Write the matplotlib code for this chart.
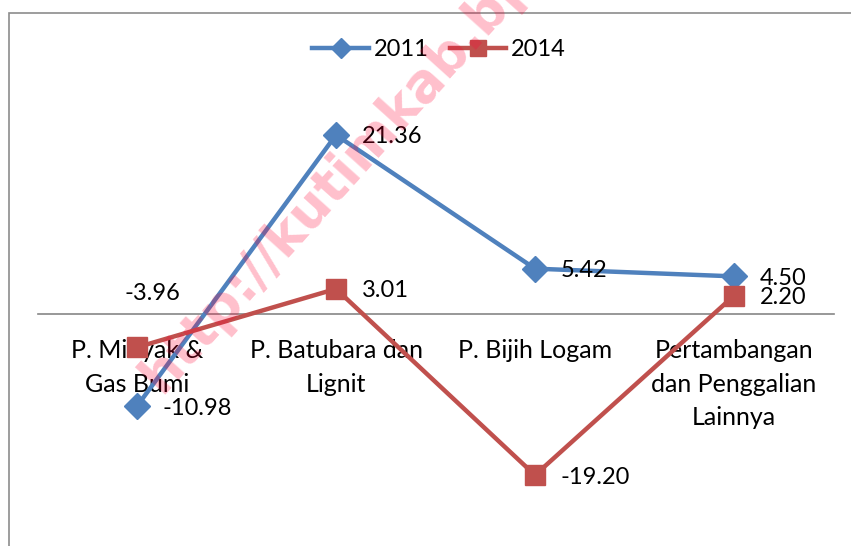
import matplotlib.pyplot as plt
from matplotlib.patches import Rectangle

categories = ["P. Minyak &\nGas Bumi", "P. Batubara dan\nLignit", "P. Bijih Logam",
              "Pertambangan\ndan Penggalian\nLainnya"]
val_2011 = [-10.98, 21.36, 5.42, 4.50]
val_2014 = [-3.96, 3.01, -19.20, 2.20]
lbl_2011 = ["-10.98", "21.36", "5.42", "4.50"]
lbl_2014 = ["-3.96", "3.01", "-19.20", "2.20"]

blue = "#4F81BD"
red = "#C0504D"
plt.rcParams['font.family'] = ['Lato', 'DejaVu Sans']

W, H = 851, 546
fig = plt.figure(figsize=(W / 100, H / 100), dpi=100)

# plot area in pixel terms: x 37.5..833.5, y 60..520
ax = fig.add_axes([37.5 / W, 1 - 520 / H, 796 / W, 460 / H])
ax.set_xlim(-0.5, 3.5)
ax.set_ylim(-24.55, 30.3)

x = list(range(len(categories)))
l1, = ax.plot(x, val_2011, color=blue, lw=3.2, marker='D', ms=13, mec=blue, mfc=blue, label='2011', zorder=3)
l2, = ax.plot(x, val_2014, color=red, lw=3.2, marker='s', ms=14.5, mec=red, mfc=red, label='2014', zorder=3)

for s in ['top', 'right', 'left']:
    ax.spines[s].set_visible(False)
ax.spines['bottom'].set_position(('data', 0))
ax.spines['bottom'].set_color('#868686')
ax.spines['bottom'].set_linewidth(1.2)
ax.set_yticks([])
ax.set_xticks(x)
ax.set_xticklabels(categories, fontsize=18, linespacing=1.56)
ax.tick_params(axis='x', length=0, pad=18)
ax.patch.set_alpha(0)

for i in x:
    ax.annotate(lbl_2011[i], (i, val_2011[i]), xytext=(26, -2), textcoords='offset pixels',
                ha='left', va='center', fontsize=17)
    if i == 0:
        ax.annotate(lbl_2014[i], (i, val_2014[i]), xytext=(15, 54), textcoords='offset pixels',
                    ha='center', va='center', fontsize=17)
    else:
        ax.annotate(lbl_2014[i], (i, val_2014[i]), xytext=(26, -2), textcoords='offset pixels',
                    ha='left', va='center', fontsize=17)

fig.legend(handles=[l1, l2], loc='center', bbox_to_anchor=(439 / W, 1 - 50 / H), ncol=2,
           frameon=False, fontsize=17, handlelength=2.4, handletextpad=0.2,
           columnspacing=0.9, markerscale=0.75)

# outer chart border (cropped on right and bottom)
fig.patches.append(Rectangle((8.5 / W, -0.1), 1.2, 1 - 12.5 / H + 0.1, transform=fig.transFigure,
                             fill=False, edgecolor='#8c8c8c', lw=1.2))

# watermark
fig.text(150 / W, 1 - 385 / H, "http://kutimkab.bps.go.id", transform=fig.transFigure,
         rotation=48, rotation_mode='anchor', ha='left', va='center', fontsize=38,
         fontweight='bold', color='#ff0033', alpha=0.25, family='DejaVu Sans', zorder=10)

fig.savefig('out.png', dpi=100)
